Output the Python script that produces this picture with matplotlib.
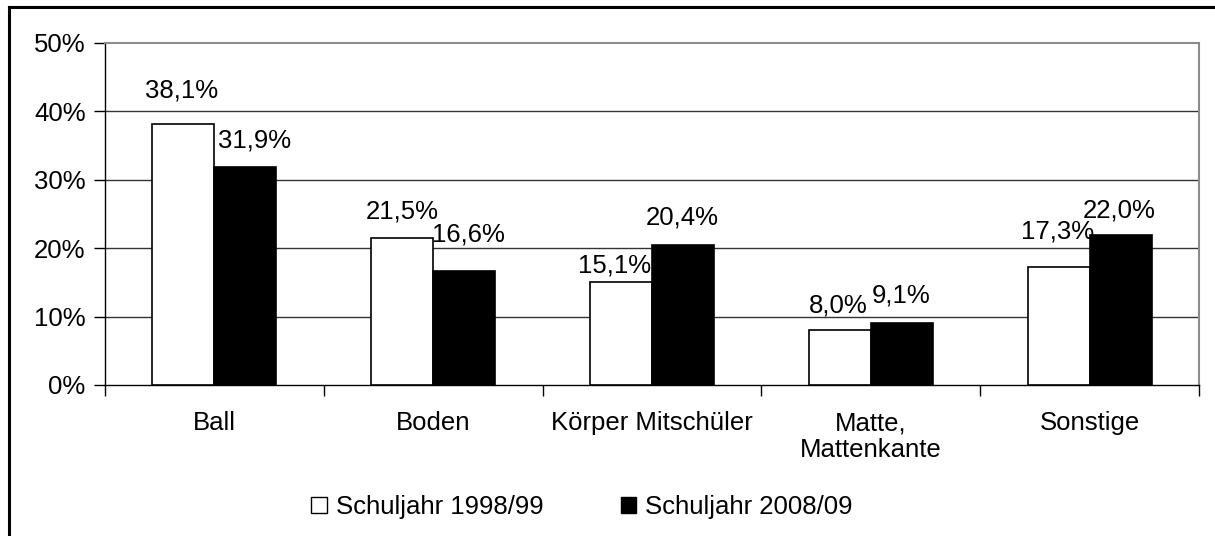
import matplotlib
matplotlib.use("Agg")
import matplotlib.pyplot as plt
from matplotlib.lines import Line2D
from matplotlib.patches import Patch
import numpy as np

categories = ["Ball", "Boden", "Körper Mitschüler", "Matte,\nMattenkante", "Sonstige"]
series_names = ["Schuljahr 1998/99", "Schuljahr 2008/09"]
values_1998 = [38.1, 21.5, 15.1, 8.0, 17.3]
values_2008 = [31.9, 16.6, 20.4, 9.1, 22.0]
y_ticks = [0, 10, 20, 30, 40, 50]

# hand-placed data label offsets in pixels (dx, dy above the bar top)
label_offsets_1998 = [(-2, 27), (0, 19), (-6, 9), (-2, 18), (-1, 28)]
label_offsets_2008 = [(9, 19), (4, 30), (-1, 21), (-1, 20), (-1, 17)]

plt.rcParams["font.family"] = ["Liberation Sans", "DejaVu Sans"]
FS = 18.5

fig = plt.figure(figsize=(12.15, 5.36), dpi=100)
ax = fig.add_axes([105 / 1215, 1 - 385 / 536, 1094 / 1215, 342 / 536])

x = np.arange(len(categories))
w = 0.283
bars_a = ax.bar(x - w / 2, values_1998, w, color="white", edgecolor="black",
                linewidth=1.2, zorder=3)
bars_b = ax.bar(x + w / 2, values_2008, w, color="black", edgecolor="black",
                linewidth=1.2, zorder=3)

def fmt(v):
    return f"{v:.1f}%".replace(".", ",")

for bars, vals, offs in ((bars_a, values_1998, label_offsets_1998),
                         (bars_b, values_2008, label_offsets_2008)):
    for b, v, (dx, dy) in zip(bars, vals, offs):
        ax.annotate(fmt(v), (b.get_x() + b.get_width() / 2, v),
                    xytext=(dx, dy), textcoords="offset pixels",
                    ha="center", va="baseline", fontsize=FS, zorder=4)

ax.set_xlim(-0.5, len(categories) - 0.5)
ax.set_ylim(0, 50)
ax.set_yticks(y_ticks)
ax.set_yticklabels([f"{t}%" for t in y_ticks], fontsize=FS)
for t in y_ticks[1:-1]:
    ax.axhline(t, color="#333333", lw=1.0, zorder=1)

ax.set_xticks(x)
ax.set_xticklabels(categories, fontsize=FS, linespacing=1.15)
ax.set_xticks(np.arange(len(categories) + 1) - 0.5, minor=True)
ax.tick_params(axis="x", which="major", length=0, pad=19)
ax.tick_params(axis="x", which="minor", length=8, width=1, color="black",
               direction="out")
ax.tick_params(axis="y", length=8, width=1, color="black", pad=6)

for side in ("top", "right"):
    ax.spines[side].set_color("#8c8c8c")
    ax.spines[side].set_linewidth(1.5)
for side in ("left", "bottom"):
    ax.spines[side].set_color("black")
    ax.spines[side].set_linewidth(1.0)

handles = [Patch(facecolor="white", edgecolor="black", lw=1),
           Patch(facecolor="black", edgecolor="black", lw=1)]
fig.legend(handles, series_names, loc="center",
           bbox_to_anchor=(582 / 1215, 1 - 507 / 536), ncol=2, frameon=False,
           fontsize=FS, handlelength=0.6, handleheight=0.6,
           handletextpad=0.35, columnspacing=3.0)

# outer chart frame (only top and left edges are inside the picture)
fig.add_artist(Line2D([9 / 1215, 1], [1 - 7 / 536] * 2, color="black", lw=2.2,
                      transform=fig.transFigure))
fig.add_artist(Line2D([9 / 1215] * 2, [0, 1 - 7 / 536], color="black", lw=2.2,
                      transform=fig.transFigure))

fig.savefig("out.png", dpi=100)
